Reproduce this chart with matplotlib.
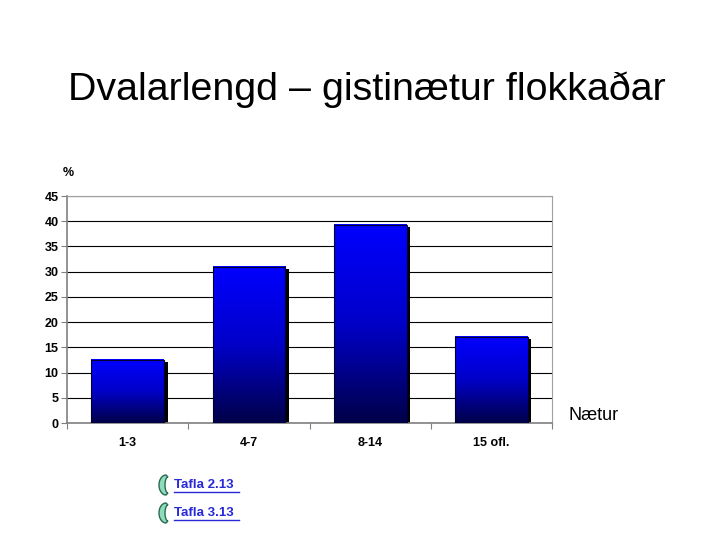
import matplotlib.pyplot as plt
import numpy as np
from matplotlib.colors import LinearSegmentedColormap
from matplotlib.patches import Rectangle, Polygon

categories = ['1-3', '4-7', '8-14', '15 ofl.']
values = [12.5, 31.0, 39.3, 17.1]
yticks = [0, 5, 10, 15, 20, 25, 30, 35, 40, 45]
links = ['Tafla 2.13', 'Tafla 3.13']

plt.rcParams['font.family'] = ['Liberation Sans', 'DejaVu Sans']

fig = plt.figure(figsize=(7.14, 5.46), dpi=100)
fig.patch.set_facecolor('white')

fig.text(0.514, 1 - 90 / 546, 'Dvalarlengd \u2013 gistinætur flokkaðar', fontsize=28.4,
         ha='center', va='center', color='black')

ax = fig.add_axes([67 / 714, 1 - 423 / 546, (552 - 67) / 714, (423 - 196) / 546])
x = np.arange(len(categories))

cmap = LinearSegmentedColormap.from_list('bl', ['#000048', '#0000c8', '#0000ff'])
grad = np.linspace(0, 1, 256).reshape(-1, 1)
bars = ax.bar(x, values, width=0.6, color='none', zorder=3)
for b in bars:
    x0, y0 = b.get_x(), b.get_y()
    w, h = b.get_width(), b.get_height()
    ax.add_patch(Rectangle((x0 + 0.03, y0), w, h - 0.45, facecolor='black',
                           edgecolor='none', zorder=2))
    ax.imshow(grad, cmap=cmap, origin='lower', aspect='auto',
              extent=(x0, x0 + w, y0, y0 + h), zorder=3)
    ax.add_patch(Rectangle((x0, y0), w, h, facecolor='none',
                           edgecolor='#000030', linewidth=0.8, zorder=4))
ax.set_xlim(-0.5, len(categories) - 0.5)
ax.set_ylim(0, 45)

ax.set_yticks(yticks)
ax.set_yticklabels([str(t) for t in yticks], fontsize=9, fontweight='bold')
ax.yaxis.grid(True, color='black', linewidth=0.8)
ax.set_axisbelow(True)
ax.set_xticks(np.arange(len(categories) + 1) - 0.5)
ax.set_xticklabels([])
ax.set_xticks(x, minor=True)
ax.set_xticklabels(categories, minor=True, fontsize=9, fontweight='bold')
ax.tick_params(axis='x', which='minor', length=0, pad=10)
ax.tick_params(axis='x', which='major', length=4, color='#808080')
ax.tick_params(axis='y', length=4, color='#808080', pad=2)
for s in ['top', 'right']:
    ax.spines[s].set_color('#a0a0a0')
for s in ['left', 'bottom']:
    ax.spines[s].set_color('#808080')
    ax.spines[s].set_linewidth(1.2)

fig.text(63 / 714, 1 - 173 / 546, '%', fontsize=9, fontweight='bold', va='center')
fig.text(569 / 714, 1 - 415 / 546, 'Nætur', fontsize=13, va='center')

# crescent icon shape
t = np.linspace(np.pi / 2, 3 * np.pi / 2, 40)
outer = np.c_[np.cos(t) * 7, np.sin(t) * 10]
inner = np.c_[2 + np.cos(t[::-1]) * 3, np.sin(t[::-1]) * 8]
crescent = np.vstack([outer, inner])

for i, lab in enumerate(links):
    ypx = 485 + 28 * i
    yy = 1 - ypx / 546
    pts = np.c_[(166 + crescent[:, 0]) / 714, 1 - (ypx - crescent[:, 1]) / 546]
    fig.add_artist(Polygon(pts, closed=True, facecolor='#8fdcbc',
                           edgecolor='#2a6a50', linewidth=1.0,
                           transform=fig.transFigure))
    fig.text(174 / 714, yy, lab, fontsize=9.5, fontweight='bold', color='#2828d8',
             va='center')
    fig.add_artist(plt.Line2D([174 / 714, 239 / 714], [yy - 0.013, yy - 0.013],
                              color='#2828d8', linewidth=1))

fig.savefig('out.png', dpi=100)
